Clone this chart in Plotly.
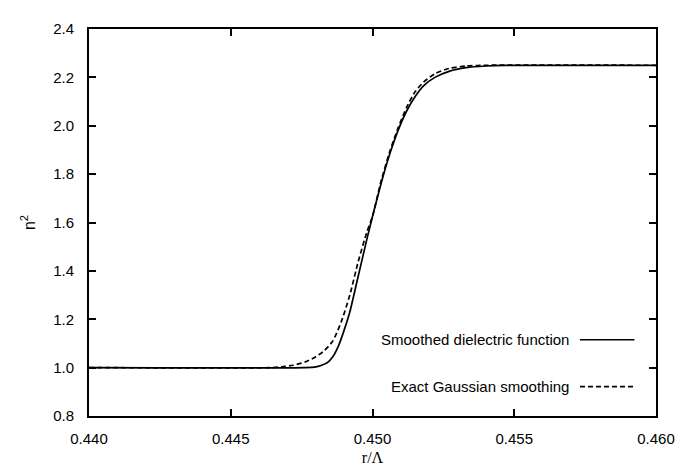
import plotly.graph_objects as go

# r/Lambda positions and n^2 values
x_smooth = [0.440, 0.4476, 0.4480, 0.4484, 0.4486, 0.4488, 0.4490, 0.4492, 0.4495,
            0.4498, 0.4500, 0.4503, 0.4506, 0.4509, 0.4512, 0.4515, 0.4518, 0.4522,
            0.4527, 0.4533, 0.4540, 0.4547, 0.460]
y_smooth = [1.0, 1.0, 1.003, 1.02, 1.045, 1.09, 1.155, 1.23, 1.38,
            1.53, 1.625, 1.76, 1.88, 1.98, 2.06, 2.12, 2.165, 2.20,
            2.225, 2.24, 2.247, 2.25, 2.25]

x_exact = [0.440, 0.4464, 0.4468, 0.4472, 0.4476, 0.4480, 0.4483, 0.4486, 0.4489,
           0.4492, 0.4495, 0.4498, 0.4500, 0.4503, 0.4506, 0.4509, 0.4512, 0.4515,
           0.4518, 0.4522, 0.4527, 0.4533, 0.4540, 0.460]
y_exact = [1.0, 1.0, 1.003, 1.01, 1.022, 1.045, 1.07, 1.11, 1.19,
           1.30, 1.44, 1.56, 1.625, 1.77, 1.89, 1.99, 2.075, 2.14,
           2.18, 2.215, 2.237, 2.247, 2.25, 2.25]

names = ["Smoothed dielectric function", "Exact Gaussian smoothing"]
dashes = ["solid", "5px,3px"]

fig = go.Figure()
fig.add_trace(go.Scatter(x=x_smooth, y=y_smooth, mode="lines", name=names[0],
                         line=dict(color="black", width=1.7, shape="spline", smoothing=0.6),
                         showlegend=False))
fig.add_trace(go.Scatter(x=x_exact, y=y_exact, mode="lines", name=names[1],
                         line=dict(color="black", width=1.7, dash=dashes[1],
                                   shape="spline", smoothing=0.6),
                         showlegend=False))

# gnuplot-style key: text on the left, line sample on the right
key_y = [0.197, 0.076]
for name, ky, dash in zip(names, key_y, dashes):
    fig.add_annotation(x=0.85, y=ky, xref="paper", yref="paper", text=name,
                       showarrow=False, xanchor="right", yanchor="middle",
                       font=dict(family="Liberation Sans", size=15, color="black"))
    fig.add_shape(type="line", xref="paper", yref="paper", x0=0.866, x1=0.962,
                  y0=ky, y1=ky, line=dict(color="black", width=1.7, dash=dash))

axis_common = dict(showgrid=False, zeroline=False, showline=True, mirror="ticks",
                   linecolor="black", linewidth=2, ticks="inside", ticklen=7,
                   tickwidth=2, tickcolor="black",
                   tickfont=dict(family="Liberation Sans", size=15, color="black"))

fig.update_layout(
    width=696, height=468,
    margin=dict(l=81, r=48, t=17, b=55),
    plot_bgcolor="white", paper_bgcolor="white",
    xaxis=dict(range=[0.44, 0.46], tickvals=[0.44, 0.445, 0.45, 0.455, 0.46],
               ticktext=["0.440", "0.445", "0.450", "0.455", "0.460"],
               ticklabelstandoff=8,
               title=dict(text="r/Λ", standoff=6,
                          font=dict(family="Liberation Serif", size=16, color="black")),
               **axis_common),
    yaxis=dict(range=[0.8, 2.4], tickvals=[0.8, 1.0, 1.2, 1.4, 1.6, 1.8, 2.0, 2.2, 2.4],
               ticktext=["0.8", "1.0", "1.2", "1.4", "1.6", "1.8", "2.0", "2.2", "2.4"],
               ticklabelstandoff=10,
               title=dict(text="n<sup>2</sup>", standoff=14,
                          font=dict(family="Liberation Sans", size=16, color="black")),
               **axis_common),
)

fig.write_html("out.html")
